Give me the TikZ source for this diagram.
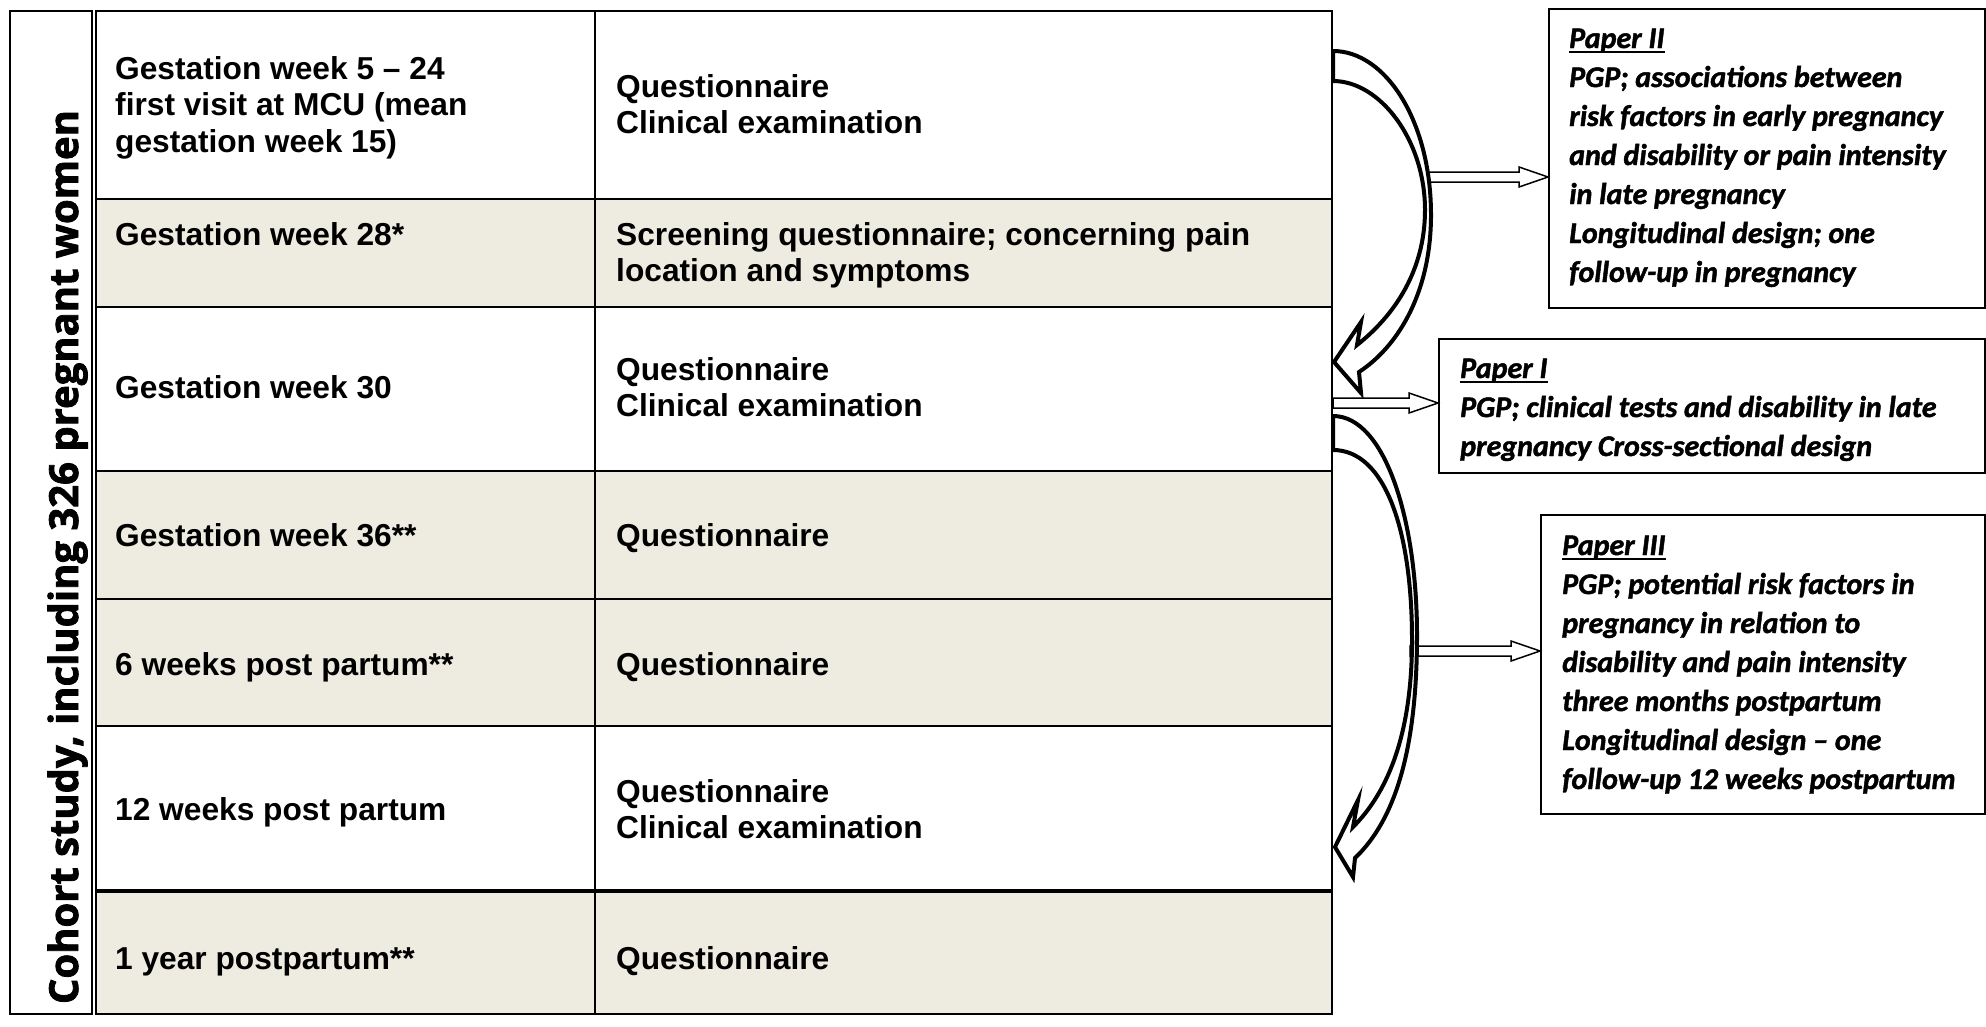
\documentclass[tikz,border=0pt]{standalone}
\usepackage{fontspec}
\setmainfont{Liberation Sans}
\newfontfamily\labfont{Open Sans}[BoldFeatures={FakeBold=2}]
\newfontfamily\papfont{Carlito Bold Italic}[FakeBold=1.5]
\usetikzlibrary{calc}
\definecolor{rowtan}{HTML}{EEECE1}
\newcommand\ml[1]{\begin{tabular}[t]{@{}l@{}}#1\end{tabular}}
\newcommand\pul[1]{\setbox0\hbox{#1}\rlap{\rule[-4.5pt]{\wd0}{2pt}}\box0}
\tikzset{
  cell/.style={anchor=base west, inner sep=0pt, font=\fontsize{31.7}{36.6}\selectfont\bfseries},
  ptext/.style={anchor=base west, inner sep=0pt, font=\papfont\fontsize{30}{39}\selectfont},
  pbox/.style={draw, line width=2pt, anchor=north west, inner sep=0pt, fill=white},
  harrow/.style={draw, line width=1.5pt, fill=white, line join=miter},
  carrow/.style={draw, line width=4pt, fill=white, line join=miter, miter limit=20},
  tline/.style={line width=2.5pt}
}
\newcommand\hollowarrow[2]{\draw[harrow] ($(#1)+(0,-5)$) -- ($(#2)+(-29,-5)$) -- ($(#2)+(-29,-10)$) -- (#2) -- ($(#2)+(-29,10)$) -- ($(#2)+(-29,5)$) -- ($(#1)+(0,5)$) -- cycle;}
\begin{document}
\begin{tikzpicture}[x=1pt,y=-1pt]
\useasboundingbox (0,0) rectangle (1986,1026);
\fill[white] (0,0) rectangle (1986,1026);
% row fills
\fill[rowtan] (96,199) rectangle (1332,307);
\fill[rowtan] (96,471) rectangle (1332,726);
\fill[rowtan] (96,891) rectangle (1332,1014);
% table lines
\draw[tline] (96,11) rectangle (1332,1014);
\foreach \yy in {199,307,471,599,726} \draw[tline] (96,\yy) -- (1332,\yy);
\draw[line width=4pt] (96,891) -- (1332,891);
\draw[line width=2pt] (595,11) -- (595,1014);
% label box
\draw[line width=2pt] (10,11) rectangle (92,1014);
\node[rotate=90, anchor=base, inner sep=0pt, font=\labfont\bfseries\fontsize{40}{42}\selectfont] (lab) at (78,557) {Cohort study, including 326 pregnant women};
% cells
\node[cell] (c1l) at (115,79) {\ml{Gestation week 5 – 24\\first visit at MCU (mean\\gestation week 15)}};
\node[cell] (c1r) at (616,97) {\ml{Questionnaire\\Clinical examination}};
\node[cell] (c2l) at (115,245) {Gestation week 28*};
\node[cell] (c2r) at (616,245) {\ml{Screening questionnaire; concerning pain\\location and symptoms}};
\node[cell] (c3l) at (115,398) {Gestation week 30};
\node[cell] (c3r) at (616,380) {\ml{Questionnaire\\Clinical examination}};
\node[cell] (c4l) at (115,546) {Gestation week 36**};
\node[cell] (c4r) at (616,546) {Questionnaire};
\node[cell] (c5l) at (115,675) {6 weeks post partum**};
\node[cell] (c5r) at (616,675) {Questionnaire};
\node[cell] (c6l) at (115,820) {12 weeks post partum};
\node[cell] (c6r) at (616,802) {\ml{Questionnaire\\Clinical examination}};
\node[cell] (c7l) at (115,969) {1 year postpartum**};
\node[cell] (c7r) at (616,969) {Questionnaire};
% paper boxes
\node[pbox, minimum width=436pt, minimum height=299pt] (p2) at (1548,8) {};
\node[pbox, minimum width=546pt, minimum height=134pt] (p1) at (1438,338) {};
\node[pbox, minimum width=444pt, minimum height=299pt] (p3) at (1540,514) {};
% straight hollow arrows
\coordinate (s2) at (1422,177);
\coordinate (e2) at (p2.west|-s2);
\coordinate (s1) at (1333,403);
\coordinate (e1) at (p1.west|-s1);
\coordinate (s3) at (1410,651);
\coordinate (e3) at (p3.west|-s3);
\hollowarrow{s2}{e2}
\hollowarrow{s1}{e1}
\hollowarrow{s3}{e3}
% curved arrows
\draw[carrow] (1333,81) -- (1333,51)
  .. controls (1385,51) and (1431,120) .. (1431,215)
  .. controls (1431,290) and (1400,345) .. (1359,372)
  -- (1361,393) -- (1334,362) -- (1361,322) -- (1357,345)
  .. controls (1395,315) and (1425,270) .. (1425,210)
  .. controls (1425,140) and (1380,81) .. (1333,81) -- cycle;
\draw[carrow] (1333,450) -- (1333,416)
  .. controls (1385,416) and (1417,520) .. (1417,635)
  .. controls (1417,750) and (1395,820) .. (1355,858)
  -- (1353,877) -- (1335,847) -- (1358,800) -- (1353,827)
  .. controls (1390,790) and (1412,730) .. (1412,640)
  .. controls (1412,530) and (1385,450) .. (1333,450) -- cycle;
% paper texts
\node[ptext] (t2) at (1569,48) {\ml{\pul{Paper II}\\PGP; associations between\\risk factors in early pregnancy\\and disability or pain intensity\\in late pregnancy\\Longitudinal design; one\\follow-up in pregnancy}};
\node[ptext] (t1) at (1460,378) {\ml{\pul{Paper I}\\PGP; clinical tests and disability in late\\pregnancy Cross-sectional design}};
\node[ptext] (t3) at (1562,555) {\ml{\pul{Paper III}\\PGP; potential risk factors in\\pregnancy in relation to\\disability and pain intensity\\three months postpartum\\Longitudinal design – one\\follow-up 12 weeks postpartum}};
\end{tikzpicture}
\end{document}
